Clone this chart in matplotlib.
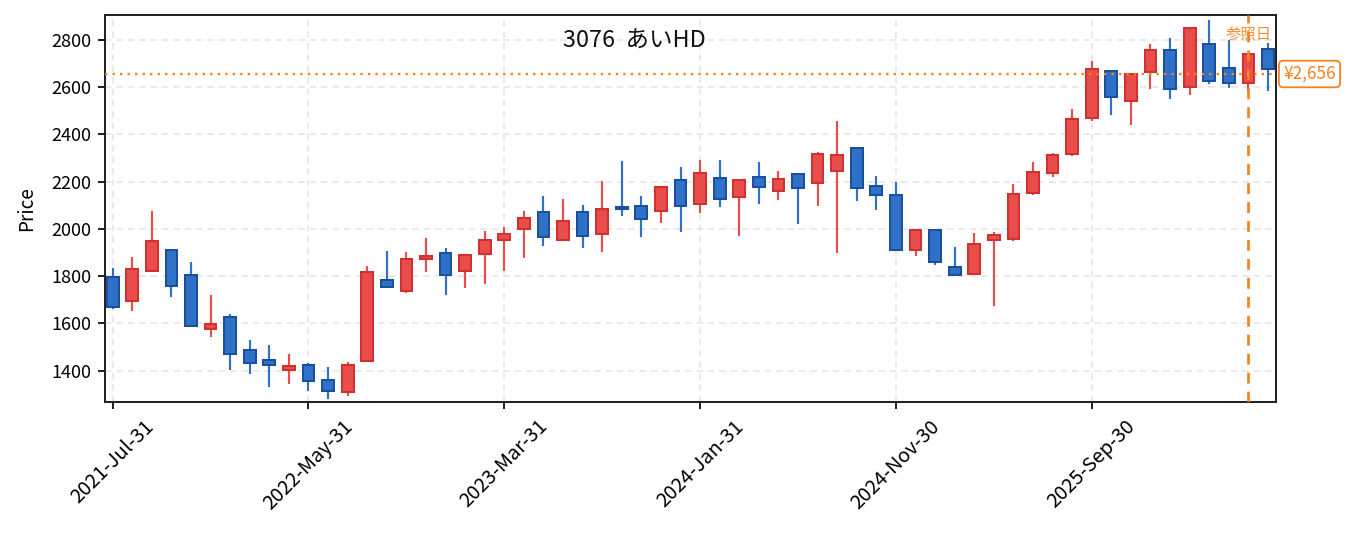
import matplotlib
matplotlib.use("Agg")
import matplotlib.pyplot as plt
import matplotlib.transforms as mtransforms
import pandas as pd

plt.rcParams["font.family"] = ["Noto Sans CJK JP", "DejaVu Sans"]

TITLE = "3076  あいHD"
REF_PRICE = 2656
REF_INDEX = 58

dates = pd.date_range("2021-07-31", periods=60, freq="ME")

opens = [1798, 1693, 1822, 1909, 1807, 1575, 1628, 1487, 1445, 1404,
         1424, 1360, 1311, 1440, 1784, 1739, 1872, 1899, 1820, 1896,
         1952, 1999, 2070, 1952, 2073, 1977, 2094, 2098, 2075, 2208,
         2104, 2215, 2137, 2220, 2159, 2232, 2193, 2244, 2342, 2183,
         2145, 1910, 1997, 1840, 1809, 1953, 1957, 2152, 2237, 2317,
         2470, 2668, 2543, 2666, 2757, 2603, 2782, 2681, 2616, 2761]
highs = [1835, 1882, 2078, 1915, 1861, 1720, 1638, 1529, 1507, 1469,
         1434, 1417, 1438, 1843, 1906, 1902, 1962, 1919, 1893, 1991,
         2007, 2075, 2139, 2127, 2101, 2203, 2289, 2139, 2180, 2263,
         2290, 2290, 2209, 2282, 2244, 2234, 2327, 2458, 2344, 2224,
         2199, 1998, 1999, 1923, 1982, 1987, 2190, 2283, 2320, 2510,
         2713, 2670, 2659, 2781, 2809, 2852, 2885, 2798, 2742, 2789]
lows = [1659, 1654, 1820, 1713, 1583, 1543, 1401, 1385, 1330, 1343,
        1312, 1278, 1291, 1438, 1750, 1729, 1818, 1721, 1750, 1767,
        1821, 1876, 1927, 1950, 1919, 1902, 2054, 1966, 2026, 1988,
        2068, 2093, 1970, 2106, 2123, 2021, 2097, 1899, 2118, 2080,
        1908, 1886, 1848, 1802, 1807, 1674, 1947, 2142, 2221, 2308,
        2456, 2481, 2439, 2592, 2549, 2566, 2614, 2597, 2586, 2586]
closes = [1668, 1832, 1947, 1757, 1587, 1598, 1469, 1431, 1422, 1419,
          1358, 1315, 1424, 1818, 1753, 1874, 1887, 1807, 1891, 1955,
          1979, 2047, 1964, 2034, 1969, 2085, 2083, 2041, 2179, 2098,
          2237, 2125, 2207, 2176, 2211, 2172, 2317, 2313, 2175, 2143,
          1910, 1994, 1859, 1804, 1937, 1974, 2149, 2242, 2314, 2464,
          2676, 2559, 2657, 2757, 2593, 2850, 2627, 2617, 2740, 2678]

UP_FILL, UP_EDGE = "#e84c4b", "#d1302f"
DN_FILL, DN_EDGE = "#2e71c6", "#1a4f9f"
ORANGE = "#f5821f"

fig = plt.figure(figsize=(1355 / 130, 533 / 130), dpi=130)
ax = fig.add_axes([0.0775, 0.2452, 0.8642, 0.7267])

for i, (o, h, l, c) in enumerate(zip(opens, highs, lows, closes)):
    up = c >= o
    fill, edge = (UP_FILL, UP_EDGE) if up else (DN_FILL, DN_EDGE)
    ax.vlines(i, l, h, color=fill, linewidth=1.2, zorder=2)
    ax.bar(i, abs(c - o), bottom=min(o, c), width=0.6,
           color=fill, edgecolor=edge, linewidth=1.1, zorder=3)

# reference markers
ax.axhline(REF_PRICE, color=ORANGE, linestyle=(0, (1, 2.2)), linewidth=1.3, zorder=4)
ax.axvline(REF_INDEX, color=ORANGE, linestyle=(0, (4, 3)), linewidth=1.5, zorder=4)
trans = mtransforms.blended_transform_factory(ax.transData, ax.transAxes)
ax.text(REF_INDEX, 0.97, "参照日", transform=trans, ha="center", va="top",
        fontsize=8.5, color=ORANGE, alpha=0.9, zorder=5)
ax.annotate(f"¥{REF_PRICE:,}", xy=(1, REF_PRICE),
            xycoords=("axes fraction", "data"), xytext=(4, 0),
            textcoords="offset points", ha="left", va="center",
            fontsize=9.5, color=ORANGE, annotation_clip=False,
            bbox=dict(boxstyle="round,pad=0.25", fc="white", ec=ORANGE, lw=1.0))

ax.text(0.452, 0.932, TITLE, transform=ax.transAxes, ha="center", va="center",
        fontsize=13, color="#111111")

ax.set_xlim(-0.39, 59.41)
ax.set_ylim(1266, 2906)
ax.set_yticks(range(1400, 2801, 200))
tick_idx = list(range(0, len(dates), 10))
ax.set_xticks(tick_idx)
ax.set_xticklabels([dates[i].strftime("%Y-%b-%d") for i in tick_idx], rotation=45)
ax.set_ylabel("Price", fontsize=10.5, labelpad=8)
ax.tick_params(labelsize=10, width=1.1, length=4, color="#222222")
ax.tick_params(axis="x", labelsize=11)
ax.grid(True, color="#e6e6e6", linestyle=(0, (4, 3)), linewidth=0.9, zorder=0)
ax.set_axisbelow(True)
for sp in ax.spines.values():
    sp.set_linewidth(1.1)
    sp.set_color("#222222")

fig.savefig("out.png", dpi=130)
